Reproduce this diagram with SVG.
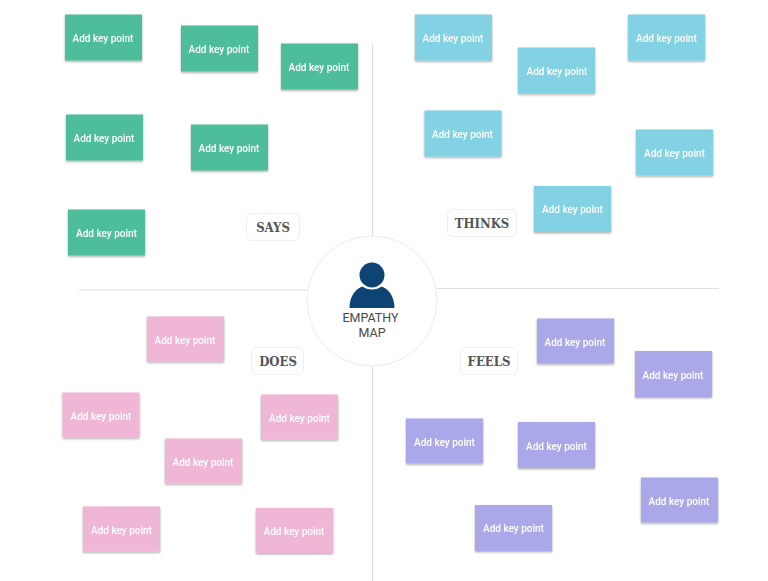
<svg xmlns="http://www.w3.org/2000/svg" width="768" height="581" viewBox="0 0 768 581">
<defs><filter id="s" x="-10%" y="-10%" width="120%" height="125%"><feDropShadow dx="0" dy="1.200" stdDeviation="0.800" flood-color="#000" flood-opacity="0.350"/></filter></defs>
<style>
.n{filter:url(#s)}
.g{fill:#4dbd9c}.b{fill:#82d2e3}.p{fill:#efb6d6}.v{fill:#aba8ea}
.t{font-family:"Roboto","Liberation Sans",sans-serif;font-size:10px;font-weight:500;fill:#fff;text-anchor:middle}
.l{fill:#fff;stroke:#efefef;stroke-width:1}
.h{font-family:"DejaVu Serif Condensed","DejaVu Serif",serif;font-size:13px;font-weight:700;fill:#555;text-anchor:middle}
.c{stroke:#dfdfdf;stroke-width:1.200;fill:none}
.m{font-family:"Roboto","Liberation Sans",sans-serif;font-size:12.500px;fill:#4a4a4a;text-anchor:middle}
</style>
<rect width="768" height="581" fill="#fff"/>
<g id="connectors">
<path class="c" d="M372.500 44V237M372.500 367V581M79 290H307M437 288.500H719"/>
</g>
<g id="center"><circle cx="372" cy="301" r="65" fill="#fff" stroke="#ececec"/>
<circle cx="372" cy="275" r="12.500" fill="#0d4474"/>
<path d="M349.500 308C349.500 297 355 289 362.500 286.500C367 290.500 377 290.500 381.500 286.500C389 289 394.500 297 394.500 308Z" fill="#0d4474"/>
<text class="m" x="370.500" y="322">EMPATHY</text><text class="m" x="372" y="337">MAP</text></g>
<g id="label-says"><rect class="l" x="246.500" y="213.500" width="53" height="27" rx="5"/><text class="h" x="273" y="232">SAYS</text></g>
<g id="label-thinks"><rect class="l" x="447.500" y="209.500" width="69" height="27" rx="5"/><text class="h" x="482" y="228">THINKS</text></g>
<g id="label-does"><rect class="l" x="251.500" y="347.500" width="52" height="27" rx="5"/><text class="h" x="278" y="366">DOES</text></g>
<g id="label-feels"><rect class="l" x="460.500" y="347.500" width="57" height="27" rx="5"/><text class="h" x="489" y="366">FEELS</text></g>
<g id="g1" class="n"><rect class="g" x="65" y="14.500" width="77" height="46"/><text class="t" x="103" y="42">Add key point</text></g>
<g id="g2" class="n"><rect class="g" x="181" y="25.500" width="77" height="46"/><text class="t" x="219" y="52.500">Add key point</text></g>
<g id="g3" class="n"><rect class="g" x="281" y="43.500" width="77" height="46"/><text class="t" x="319" y="71">Add key point</text></g>
<g id="g4" class="n"><rect class="g" x="66" y="114.500" width="77" height="46"/><text class="t" x="104" y="142">Add key point</text></g>
<g id="g5" class="n"><rect class="g" x="191" y="124.500" width="77" height="46"/><text class="t" x="229" y="152">Add key point</text></g>
<g id="g6" class="n"><rect class="g" x="68" y="209.500" width="77" height="46"/><text class="t" x="106.500" y="237">Add key point</text></g>
<g id="b1" class="n"><rect class="b" x="415" y="14.500" width="77" height="46"/><text class="t" x="453" y="41.500">Add key point</text></g>
<g id="b2" class="n"><rect class="b" x="518" y="47.500" width="77" height="46"/><text class="t" x="557" y="75">Add key point</text></g>
<g id="b3" class="n"><rect class="b" x="628" y="14.500" width="77" height="46"/><text class="t" x="666.500" y="42">Add key point</text></g>
<g id="b4" class="n"><rect class="b" x="424.500" y="110.500" width="77" height="46"/><text class="t" x="462.500" y="138">Add key point</text></g>
<g id="b5" class="n"><rect class="b" x="636" y="129.500" width="77" height="46"/><text class="t" x="674.500" y="157">Add key point</text></g>
<g id="b6" class="n"><rect class="b" x="534" y="186" width="77" height="46"/><text class="t" x="572.500" y="213">Add key point</text></g>
<g id="p1" class="n"><rect class="p" x="147" y="316.500" width="77" height="45"/><text class="t" x="185" y="343.500">Add key point</text></g>
<g id="p2" class="n"><rect class="p" x="62.500" y="392.500" width="77" height="45"/><text class="t" x="101" y="420">Add key point</text></g>
<g id="p3" class="n"><rect class="p" x="261" y="394.500" width="77" height="45"/><text class="t" x="299.500" y="422">Add key point</text></g>
<g id="p4" class="n"><rect class="p" x="165" y="438.500" width="77" height="45"/><text class="t" x="203" y="466">Add key point</text></g>
<g id="p5" class="n"><rect class="p" x="83" y="506.500" width="77" height="45"/><text class="t" x="121.500" y="534">Add key point</text></g>
<g id="p6" class="n"><rect class="p" x="256" y="508" width="77" height="45"/><text class="t" x="294" y="535">Add key point</text></g>
<g id="v1" class="n"><rect class="v" x="537" y="318.500" width="77" height="45"/><text class="t" x="575" y="345.500">Add key point</text></g>
<g id="v2" class="n"><rect class="v" x="635" y="351" width="77" height="46"/><text class="t" x="673" y="378.500">Add key point</text></g>
<g id="v3" class="n"><rect class="v" x="406" y="418.500" width="77" height="45"/><text class="t" x="444.500" y="446">Add key point</text></g>
<g id="v4" class="n"><rect class="v" x="518" y="422" width="77" height="46"/><text class="t" x="556.500" y="449.500">Add key point</text></g>
<g id="v5" class="n"><rect class="v" x="641" y="477.500" width="77" height="45"/><text class="t" x="679" y="505">Add key point</text></g>
<g id="v6" class="n"><rect class="v" x="475" y="505" width="77" height="46"/><text class="t" x="513.500" y="532">Add key point</text></g>
</svg>
